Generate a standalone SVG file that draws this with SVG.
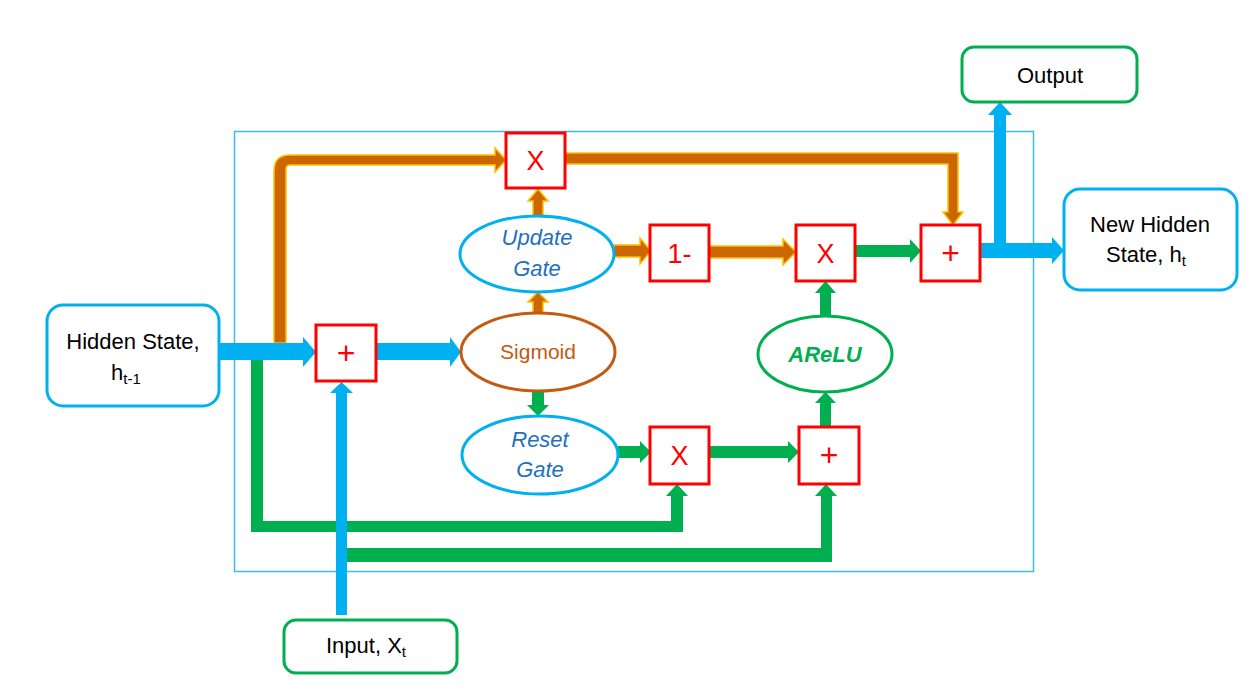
<svg xmlns="http://www.w3.org/2000/svg" width="1260" height="697" viewBox="0 0 1260 697">
<style>
.bl{fill:#00b0f0}
.gr{fill:#00b050}
.br{fill:#cc6600;stroke:#ffc000;stroke-width:1.5;stroke-linejoin:miter}
.op{fill:#fff;stroke:#ff0000;stroke-width:3}
.opt{font-family:"Liberation Sans",Arial,sans-serif;fill:#ff0000;text-anchor:middle}
.term{fill:#fff;stroke-width:3}
.lbl{font-family:"Liberation Sans",Arial,sans-serif;font-size:22px;fill:#000;text-anchor:middle}
.gate{font-family:"Liberation Sans",Arial,sans-serif;font-size:22px;font-style:italic;fill:#1f6fc1;text-anchor:middle}
</style>
<rect x="234.5" y="131.5" width="799" height="440" fill="none" stroke="#3cbcee" stroke-width="1.5"/>
<g id="connectors">
<polygon class="gr" points="251,360 263,360 263,521 671,521 671,496 666,496 677,484 688,496 683,496 683,532 251,532"/>
<polygon class="gr" points="343,548 821,548 821,496 815,496 826,484 837,496 832,496 832,562 343,562"/>
<polygon class="gr" points="855,245 910,245 910,239 921,251 910,263 910,257 855,257"/>
<polygon class="gr" points="820,317 820,293 815,293 825.5,281 836,293 831,293 831,317"/>
<polygon class="gr" points="532,392 532,405 527,405 538,416 549,405 544,405 544,392"/>
<polygon class="gr" points="617,446 640,446 640,441 651,452 640,463 640,458 617,458"/>
<polygon class="gr" points="709,446 788,446 788,441 799,452 788,463 788,458 709,458"/>
<polygon class="gr" points="820,427 820,403 815,403 825.5,392 836,403 831,403 831,427"/>
<path class="br" d="M274,343 L274,171 Q274,155 290,155 L495,155 L495,148 L506,160 L495,172 L495,165 L290,165 Q286,165 286,169 L286,343 Z"/>
<polygon class="br" points="565,153 958,153 958,212 963,212 953,225 943,212 948,212 948,164 565,164"/>
<polygon class="br" points="533,216 533,201 528,201 538,189 548,201 543,201 543,216"/>
<polygon class="br" points="533,313 533,302 528,302 538,292 548,302 543,302 543,313"/>
<polygon class="br" points="614,245 640,245 640,238 651,251 640,264 640,257 614,257"/>
<polygon class="br" points="709,246 783,246 783,239 796,252 783,265 783,258 709,258"/>
<polygon class="bl" points="219,343 303,343 303,337 316,352 303,367 303,360 219,360"/>
<polygon class="bl" points="376,343 450,343 450,337 461,352 450,367 450,360 376,360"/>
<polygon class="bl" points="336,615 336,393 330,393 341.5,382 353,393 347,393 347,615"/>
<polygon class="bl" points="980,243 1052,243 1052,237 1064,250.5 1052,264 1052,258 980,258"/>
<polygon class="bl" points="994,250 994,115 988,115 1000,102 1012,115 1006,115 1006,250"/>
</g>
<g id="hidden-state">
<rect class="term" x="47" y="305" width="172" height="101" rx="16" stroke="#00b0f0"/>
<text class="lbl" x="133" y="349">Hidden State,</text>
<text class="lbl" x="126" y="380">h<tspan font-size="15" dy="4">t-1</tspan></text>
</g>
<g id="output">
<rect class="term" x="962" y="47" width="175" height="55" rx="12" stroke="#00b050"/>
<text class="lbl" x="1050" y="83">Output</text>
</g>
<g id="new-hidden-state">
<rect class="term" x="1064" y="189" width="173" height="101" rx="16" stroke="#00b0f0"/>
<text class="lbl" x="1150" y="232">New Hidden</text>
<text class="lbl" x="1146" y="262">State, h<tspan font-size="15" dy="4">t</tspan></text>
</g>
<g id="input">
<rect class="term" x="284" y="620" width="173" height="53" rx="12" stroke="#00b050"/>
<text class="lbl" x="366" y="653">Input, X<tspan font-size="15" dy="4">t</tspan></text>
</g>
<g id="mult-top">
<rect class="op" x="506" y="133" width="59" height="55"/>
<text class="opt" x="535.5" y="170" font-size="27">X</text>
</g>
<g id="add-input">
<rect class="op" x="316" y="325" width="60" height="56"/>
<text class="opt" x="346" y="364" font-size="32">+</text>
</g>
<g id="one-minus">
<rect class="op" x="650" y="225" width="59" height="56"/>
<text class="opt" x="679.5" y="263" font-size="27">1-</text>
</g>
<g id="mult-mid">
<rect class="op" x="796" y="225" width="59" height="56"/>
<text class="opt" x="825.5" y="263" font-size="27">X</text>
</g>
<g id="add-out">
<rect class="op" x="921" y="225" width="59" height="56"/>
<text class="opt" x="950.5" y="264" font-size="32">+</text>
</g>
<g id="mult-bottom">
<rect class="op" x="650" y="427" width="59" height="57"/>
<text class="opt" x="679.5" y="465" font-size="27">X</text>
</g>
<g id="add-bottom">
<rect class="op" x="799" y="427" width="60" height="57"/>
<text class="opt" x="829" y="466" font-size="32">+</text>
</g>
<g id="update-gate">
<ellipse cx="537" cy="254" rx="77" ry="38" fill="#fff" stroke="#00b0f0" stroke-width="3"/>
<text class="gate" x="537" y="245">Update</text>
<text class="gate" x="537" y="276">Gate</text>
</g>
<g id="sigmoid">
<ellipse cx="538" cy="352" rx="77" ry="39" fill="#fff" stroke="#c55a11" stroke-width="3"/>
<text x="538" y="359" font-family="Liberation Sans, Arial, sans-serif" font-size="21" fill="#c55a11" text-anchor="middle">Sigmoid</text>
</g>
<g id="reset-gate">
<ellipse cx="540" cy="455" rx="78" ry="39" fill="#fff" stroke="#00b0f0" stroke-width="3"/>
<text class="gate" x="540" y="447">Reset</text>
<text class="gate" x="540" y="477">Gate</text>
</g>
<g id="arelu">
<ellipse cx="825" cy="354" rx="67" ry="38" fill="#fff" stroke="#00b050" stroke-width="3"/>
<text x="825" y="362" font-family="Liberation Sans, Arial, sans-serif" font-size="22" font-weight="bold" font-style="italic" fill="#00b050" text-anchor="middle">AReLU</text>
</g>
</svg>
